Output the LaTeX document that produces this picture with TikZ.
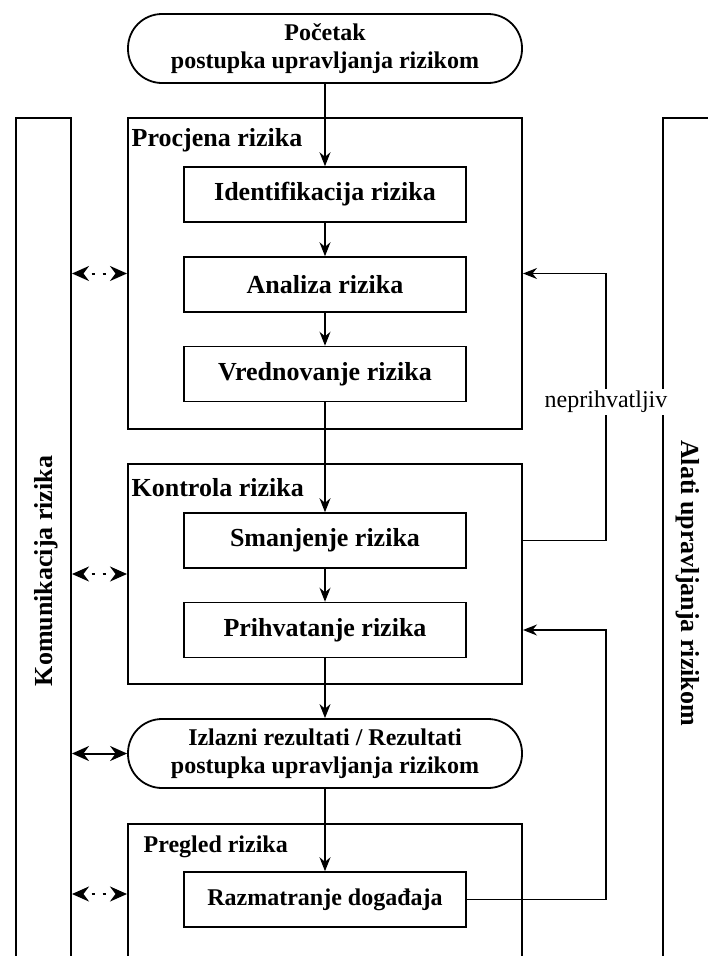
\documentclass[tikz,border=0pt]{standalone}
\usepackage{fontspec}
\setmainfont{Liberation Serif}
\usepackage{tikz}
\usetikzlibrary{arrows.meta}

\begin{document}
\begin{tikzpicture}[x=1pt,y=-1pt,>={Stealth[length=14pt,width=11pt]},line width=1.3pt]
\tikzstyle{okvir} = [draw, line width=2pt, minimum width=394pt, inner sep=0pt]
\tikzstyle{korak} = [draw, line width=1.5pt, minimum width=282pt, minimum height=55pt, font=\fontsize{26}{30}\selectfont\bfseries]
\tikzstyle{terminal} = [draw, line width=1.8pt, rounded corners=34pt, minimum width=394pt, minimum height=69pt, align=center, font=\fontsize{24}{28}\selectfont\bfseries]
\tikzstyle{kolona} = [draw, line width=2pt, minimum width=55pt, minimum height=850pt]
\tikzstyle{naslov} = [anchor=base west, inner sep=0pt, font=\fontsize{26}{30}\selectfont\bfseries]
\tikzstyle{arrow} = [->]
\tikzstyle{vezaarrow} = [{Stealth[length=17pt,width=15pt]}-{Stealth[length=17pt,width=15pt]}, line width=2pt]
\tikzstyle{dotarrow} = [vezaarrow, dash pattern=on 0pt off 9pt on 3pt off 8pt on 3pt off 40pt]

\clip (0,0) rectangle (708,956);

% stupci lijevo i desno
\node (komunikacija) at (43.5,543) [kolona] {};
\node (alati) at (690.5,543) [kolona] {};
\node (komunikacijaTekst) at (46,571) [rotate=90, font=\fontsize{26}{30}\selectfont\bfseries] {Komunikacija rizika};
\node (alatiTekst) at (688,583) [rotate=-90, font=\fontsize{26}{30}\selectfont\bfseries] {Alati upravljanja rizikom};

% okviri faza
\node (procjena) at (325,273.5) [okvir, minimum height=311pt] {};
\node (kontrola) at (325,574) [okvir, minimum height=220pt] {};
\node (pregled) at (325,894) [okvir, minimum height=140pt] {};
\node (procjenaNaslov) at (procjena.north west) [naslov, xshift=4pt, yshift=-29pt] {Procjena rizika};
\node (kontrolaNaslov) at (kontrola.north west) [naslov, xshift=4pt, yshift=-33pt] {Kontrola rizika};
\node (pregledNaslov) at (pregled.north west) [naslov, xshift=16pt, yshift=-29pt, font=\fontsize{24}{28}\selectfont\bfseries] {Pregled rizika};

% koraci
\node (pocetak) at (325,48.5) [terminal] {Početak\\postupka upravljanja rizikom};
\node (identifikacija) at (325,194.5) [korak] {Identifikacija rizika};
\node (analiza) at (325,284.5) [korak] {Analiza rizika};
\node (vrednovanje) at (325,374) [korak] {Vrednovanje rizika};
\node (smanjenje) at (325,540.5) [korak] {Smanjenje rizika};
\node (prihvatanje) at (325,630) [korak] {Prihvatanje rizika};
\node (izlazni) at (325,753.5) [terminal] {Izlazni rezultati / Rezultati\\postupka upravljanja rizikom};
\node (razmatranje) at (325,899.5) [korak, font=\fontsize{24}{28}\selectfont\bfseries] {Razmatranje događaja};
\coordinate (desno) at (606,0);

\draw[arrow] (pocetak) -- (identifikacija);
\draw[arrow] (identifikacija) -- (analiza);
\draw[arrow] (analiza) -- (vrednovanje);
\draw[arrow] (vrednovanje) -- (smanjenje);
\draw[arrow] (smanjenje) -- (prihvatanje);
\draw[arrow] (prihvatanje) -- (izlazni);
\draw[arrow] (izlazni) -- (razmatranje);

% komunikacija
\draw[dotarrow] (komunikacija.east |- procjena.west) -- (procjena.west);
\draw[dotarrow] (komunikacija.east |- kontrola.west) -- (kontrola.west);
\draw[vezaarrow] (komunikacija.east |- izlazni.west) -- (izlazni.west);
\draw[dotarrow] (komunikacija.east |- pregled.west) -- (pregled.west);

% povratne veze
\draw[arrow] (smanjenje.east -| kontrola.east) -| (desno |- procjena.east)
    node[pos=0.76, fill=white, inner sep=2pt, font=\fontsize{24}{28}\selectfont] {neprihvatljiv}
    -- (procjena.east);
\draw[arrow] (razmatranje.east) -| (desno |- prihvatanje.east) -- (prihvatanje.east -| kontrola.east);

\end{tikzpicture}
\end{document}
